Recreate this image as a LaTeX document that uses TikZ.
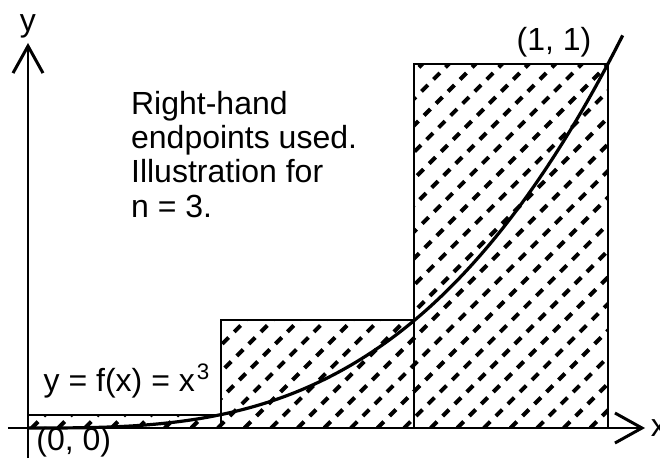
\documentclass[tikz,border=0pt]{standalone}
\usepackage{fontspec}
\setmainfont{Liberation Sans}
\usetikzlibrary{arrows.meta}

\begin{document}
\begin{tikzpicture}[
  x=289.85pt, y=181.85pt,
  axis/.style={line width=1pt, -{Straight Barb[length=13.5pt,width=15pt,line width=1.5pt]}},
  bar/.style={draw=black, line width=1pt},
  hatch/.style={line width=2pt, dash pattern=on 4.5pt off 4pt},
  curve/.style={line width=1.6pt},
  lab/.style={font=\fontsize{16}{17.2}\selectfont, inner sep=0pt}
]
\useasboundingbox (-0.0483,-0.0825) rectangle (1.0902,1.1768);

% hatched right-endpoint bars
\begin{scope}
  \clip (0,0) rectangle (1/3,1/27) (1/3,0) rectangle (2/3,8/27) (2/3,0) rectangle (1,1);
  \foreach \k in {0,...,22}
    \draw[hatch] (0.0064+0.04589*\k,0) -- ++(200pt,200pt);
\end{scope}
\draw[bar] (0,0) rectangle (1/3,1/27);
\draw[bar] (1/3,0) rectangle (2/3,8/27);
\draw[bar] (2/3,0) rectangle (1,1);

% y = x^3
\draw[curve] plot[domain=0:1.026, samples=80, smooth] (\x,{\x^3});

% axes
\coordinate (xstart) at (-0.0345,0);
\coordinate (xtip) at (1.0644,0);
\coordinate (ystart) at (0,-0.0825);
\coordinate (ytip) at (0,1.0586);
\draw[axis] (xstart) -- (xtip);
\draw[axis] (ystart) -- (ytip);

% labels
\node[lab] (ylab) at (0,1.104) {y};
\node[lab, anchor=west] (xlab) at (1.0739,0) {x};
\node[lab, anchor=north west] (origin) at (0.0138,0.003) {(0, 0)};
\node[lab] (corner) at (0.9074,1.060) {(1, 1)};
\node[lab, anchor=base west] (fx) at (0.0264,0.0998) {y = f(x) = x\kern1pt\textsuperscript{3}};
\node[lab, anchor=north west, align=left] (note) at (0.1772,0.928)
  {Right-hand\\endpoints used.\\Illustration for\\n = 3.};
\end{tikzpicture}
\end{document}
